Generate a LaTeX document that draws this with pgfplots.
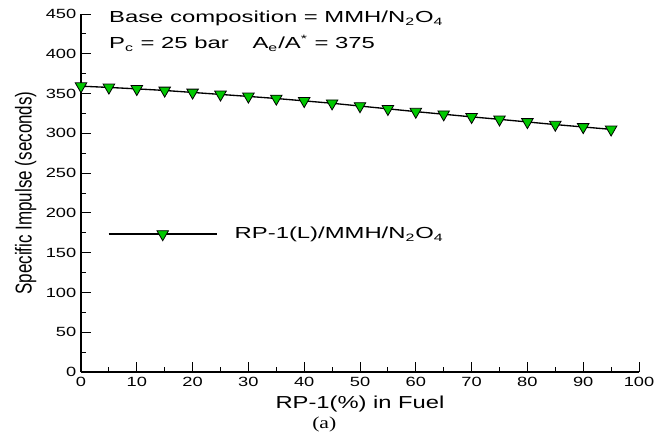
\documentclass[border=0pt]{standalone}
\usepackage{pgfplots}
\pgfplotsset{compat=1.18}
\usepackage{fontspec}
\setmainfont{Liberation Sans}
\newfontfamily\timesfont{Liberation Serif}
\definecolor{mkgreen}{RGB}{0,200,0}
\begin{document}
\begin{tikzpicture}
\path[use as bounding box] (-60.75pt,-45.75pt) rectangle (441.75pt,279pt);
\begin{axis}[
  scale only axis,
  width=418.5pt, height=268.5pt,
  xmin=0, xmax=100, ymin=0, ymax=450,
  axis x line=bottom, axis y line=left,
  axis line style={-, line width=1pt},
  xtick distance=10, ytick distance=50,
  minor x tick num=1, minor y tick num=1,
  tick align=inside,
  major tick length=7.5pt, minor tick length=3.75pt,
  every tick/.style={black, line width=0.75pt},
  /pgf/number format/assume math mode=true,
  tick label style={font=\fontsize{10}{12}\selectfont},
  xticklabel={\scalebox{1.37}[1]{\pgfmathprintnumber{\tick}}},
  yticklabel={\scalebox{1.37}[1]{\pgfmathprintnumber{\tick}}},
  xlabel={\scalebox{1.37}[1]{RP-1(\%) in Fuel}},
  ylabel={\scalebox{1}[1.35]{Specific Impulse (seconds)}},
  every axis x label/.style={at={(axis description cs:0.5,0)}, yshift=-24pt, anchor=center, font=\fontsize{13}{15}\selectfont},
  every axis y label/.style={at={(axis description cs:0,0.5)}, xshift=-41.5pt, anchor=center, rotate=90, font=\fontsize{12.75}{15}\selectfont},
  legend style={at={(axis cs:4.8,173.4)}, anchor=west, draw=none, fill=none, inner sep=0pt, font=\fontsize{12}{14}\selectfont},
  legend cell align=left,
  legend image code/.code={
    \draw[#1,mark=none] (0pt,0pt) -- (81pt,0pt);
    \draw[#1,only marks] plot coordinates {(40.5pt,0pt)};
  },
  clip=false,
]
\addplot[black, line width=1pt, mark=triangle*, mark size=5pt,
  mark options={rotate=180, fill=mkgreen, draw=black, line width=0.6pt}]
  coordinates {
  (0,359.3) (5,357.7) (10,355.9) (15,353.9) (20,351.4) (25,348.9) (30,346.4)
  (35,343.8) (40,340.8) (45,337.8) (50,334.3) (55,330.8) (60,327.3) (65,324.0)
  (70,320.7) (75,317.6) (80,314.3) (85,311.0) (90,308.0) (95,305.0)
  };
\addlegendentry{\hspace{11pt}\scalebox{1.49}[1]{RP-1(L)/MMH/N\textsubscript{2}O\textsubscript{4}}}
\node[anchor=west, font=\fontsize{12}{14}\selectfont] at (axis cs:4.2,444) {\scalebox{1.49}[1]{Base composition = MMH/N\textsubscript{2}O\textsubscript{4}}};
\node[anchor=west, font=\fontsize{12}{14}\selectfont] at (axis cs:4.2,413) {\scalebox{1.49}[1]{P\textsubscript{c} = 25 bar\quad A\textsubscript{e}/A\textsuperscript{*} = 375}};
\node[anchor=center, font=\timesfont\fontsize{12.5}{14}\selectfont] at (axis description cs:0.436,0) [yshift=-39pt] {\scalebox{1.3}[1]{(a)}};
\end{axis}
\end{tikzpicture}
\end{document}
